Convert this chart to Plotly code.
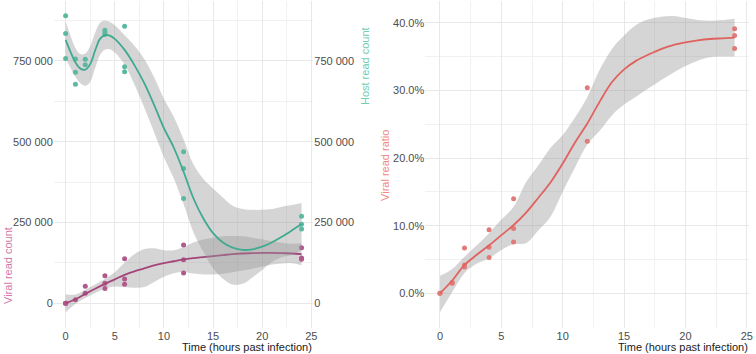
import plotly.graph_objects as go

# ---------------- data ----------------
host_t = [0, 0, 0, 1, 1, 1, 2, 2, 4, 4, 4, 6, 6, 6, 12, 12, 12, 24, 24, 24]
host_reads = [890000, 835000, 757000, 756000, 715000, 678000, 755000, 738000,
              845000, 838000, 832000, 857000, 732000, 716000,
              469000, 417000, 324000, 269000, 244500, 230000]

viral_t = [0, 0, 0, 1, 2, 2, 4, 4, 4, 6, 6, 6, 12, 12, 12, 24, 24, 24]
viral_reads = [0, 0, 0, 11000, 52600, 31000, 85000, 62000, 46000,
               138000, 75000, 59000, 180000, 135000, 94000, 172000, 140000, 136000]

ratio_t = [0, 0, 1, 1, 2, 2, 2, 4, 4, 4, 6, 6, 6, 12, 12, 24, 24, 24]
ratio_pct = [0, 0, 1.5, 1.6, 6.7, 4.2, 3.9, 9.4, 6.8, 5.3, 14.0, 9.6, 7.6,
             30.4, 22.5, 39.1, 38.1, 36.2]

# smoothed fits
host_fit_t = [0, 0.5, 1, 1.5, 2, 2.5, 3, 3.5, 4, 4.5, 5, 6, 7, 8, 9, 10, 11, 12,
              13, 14, 15, 16, 17, 18, 19, 20, 21, 22, 23, 24]
host_fit = [815, 778, 745, 726, 723, 740, 782, 818, 830, 828, 818, 784, 737, 681,
            614, 542, 482, 407, 325, 263, 217, 188, 172, 165, 167, 175, 189, 206, 225, 245]
host_hi = [872, 828, 790, 771, 773, 795, 837, 868, 875, 870, 860, 829, 797, 756,
           699, 632, 577, 507, 430, 385, 355, 327, 302, 292, 289, 289, 292, 299, 304, 310]
host_lo = [758, 728, 700, 681, 673, 685, 727, 768, 785, 786, 776, 739, 677, 606,
           529, 452, 387, 307, 220, 160, 108, 76, 58, 60, 80, 103, 128, 142, 150, 165]

viral_fit_t = list(range(0, 25))
viral_fit = [0, 12.4, 29, 45, 60, 74, 88, 99, 108, 117, 124, 130, 136, 140, 143,
             146, 149, 152, 154, 155, 156, 156, 155, 154, 152]
viral_hi = [28, 27, 42, 58, 75, 96, 126, 152, 168, 170, 164, 164, 174, 188, 197,
            203, 207, 208, 207, 203, 198, 192, 187, 184, 186]
viral_lo = [-28, -2, 16, 32, 45, 52, 50, 48, 50, 66, 82, 93, 97, 92, 89,
            89, 91, 96, 101, 107, 114, 120, 123, 124, 118]

ratio_fit_t = list(range(0, 25))
ratio_fit = [0, 1.9, 4.2, 5.7, 7.1, 8.6, 10.1, 11.9, 14.1, 16.4, 19.2, 22.3, 25.1,
             28.3, 31.2, 33.1, 34.4, 35.3, 36.1, 36.7, 37.1, 37.4, 37.6, 37.7, 37.8]
ratio_hi = [2.6, 3.6, 5.4, 7.1, 8.9, 10.9, 12.8, 16.4, 18.9, 21.5, 23.4, 26.0, 29.0,
            33.0, 36.1, 38.1, 39.7, 40.5, 40.9, 41.0, 40.7, 40.4, 40.3, 40.4, 40.6]
ratio_lo = [-2.8, 0.2, 3.0, 4.4, 5.2, 6.4, 7.3, 7.4, 9.3, 11.3, 15.0, 18.6, 22.0,
            24.0, 26.3, 27.9, 29.1, 30.3, 31.5, 32.6, 33.6, 34.4, 34.9, 35.0, 35.0]

x_ticks = [0, 5, 10, 15, 20, 25]
count_ticks = [0, 250000, 500000, 750000]
count_labels = ["0", "250 000", "500 000", "750 000"]
ratio_ticks = [0, 10, 20, 30, 40]
ratio_labels = ["0.0%", "10.0%", "20.0%", "30.0%", "40.0%"]

# ---------------- style ----------------
TEAL_PT, TEAL_LN, TEAL_TX = "#5cb9a1", "#3faa90", "#6fcdb1"
PURP_PT, PURP_LN, PURP_TX = "#b05a8b", "#a4457a", "#d27aa9"
RED_PT, RED_LN, RED_TX = "#df7b78", "#e0625f", "#ef8a85"
BAND = "rgba(150,150,150,0.40)"
FONT = "Liberation Sans, Arial, sans-serif"

fig = go.Figure()


def band(xs, lo, hi, scale, xa, ya):
    fig.add_trace(go.Scatter(x=xs, y=[v * scale for v in lo], mode="lines",
                             line=dict(width=0, shape="spline"), hoverinfo="skip",
                             showlegend=False, xaxis=xa, yaxis=ya))
    fig.add_trace(go.Scatter(x=xs, y=[v * scale for v in hi], mode="lines",
                             line=dict(width=0, shape="spline"), fill="tonexty",
                             fillcolor=BAND, hoverinfo="skip",
                             showlegend=False, xaxis=xa, yaxis=ya))


band(host_fit_t, host_lo, host_hi, 1000, "x", "y2")
band(viral_fit_t, viral_lo, viral_hi, 1000, "x", "y")
band(ratio_fit_t, ratio_lo, ratio_hi, 1, "x2", "y3")

fig.add_trace(go.Scatter(x=host_t, y=host_reads, mode="markers",
                         marker=dict(size=5, color=TEAL_PT), showlegend=False,
                         xaxis="x", yaxis="y2"))
fig.add_trace(go.Scatter(x=viral_t, y=viral_reads, mode="markers",
                         marker=dict(size=5, color=PURP_PT), showlegend=False,
                         xaxis="x", yaxis="y"))
fig.add_trace(go.Scatter(x=ratio_t, y=ratio_pct, mode="markers",
                         marker=dict(size=5, color=RED_PT), showlegend=False,
                         xaxis="x2", yaxis="y3"))

fig.add_trace(go.Scatter(x=host_fit_t, y=[v * 1000 for v in host_fit], mode="lines",
                         line=dict(color=TEAL_LN, width=1.8, shape="spline"),
                         showlegend=False, xaxis="x", yaxis="y2"))
fig.add_trace(go.Scatter(x=viral_fit_t, y=[v * 1000 for v in viral_fit], mode="lines",
                         line=dict(color=PURP_LN, width=1.8, shape="spline"),
                         showlegend=False, xaxis="x", yaxis="y"))
fig.add_trace(go.Scatter(x=ratio_fit_t, y=ratio_fit, mode="lines",
                         line=dict(color=RED_LN, width=1.8, shape="spline"),
                         showlegend=False, xaxis="x2", yaxis="y3"))

W, H = 756, 354
ydom = [1 - 327.5 / H, 1 - 1.1 / H]
GRID = "#e8e8e8"
MINOR = "#f1f1f1"
tickfont = dict(family=FONT, size=11, color="#4d4d4d")

xcommon = dict(range=[-1.2, 25.2], tickvals=x_ticks, showgrid=True, gridcolor=GRID,
               gridwidth=1, zeroline=False, showline=False, ticks="",
               tickfont=tickfont,
               minor=dict(tickvals=[2.5, 7.5, 12.5, 17.5, 22.5], showgrid=True,
                          gridcolor=MINOR, gridwidth=1))

fig.update_layout(
    width=W, height=H, margin=dict(l=0, r=0, t=0, b=0),
    paper_bgcolor="white", plot_bgcolor="white",
    font=dict(family=FONT, size=11, color="#4d4d4d"),
    showlegend=False,
    xaxis=dict(domain=[54.1 / W, 315.0 / W], anchor="y", **xcommon),
    xaxis2=dict(domain=[427.5 / W, 753.3 / W], anchor="y3", **xcommon),
    yaxis=dict(domain=ydom, range=[-75000, 935000], tickvals=count_ticks,
               ticktext=count_labels, showgrid=True, gridcolor=GRID, zeroline=False,
               showline=False, ticks="", tickfont=tickfont, anchor="x",
               minor=dict(tickvals=[125000, 375000, 625000, 875000], showgrid=True,
                          gridcolor=MINOR, gridwidth=1)),
    yaxis2=dict(domain=ydom, range=[-75000, 935000], tickvals=count_ticks,
                ticktext=count_labels, showgrid=False, zeroline=False, showline=False,
                ticks="", tickfont=tickfont, overlaying="y", side="right", anchor="x"),
    yaxis3=dict(domain=ydom, range=[-5.05, 43.2], tickvals=ratio_ticks,
                ticktext=ratio_labels, showgrid=True, gridcolor=GRID, zeroline=False,
                showline=False, ticks="", tickfont=tickfont, anchor="x2",
                minor=dict(tickvals=[-5, 5, 15, 25, 35], showgrid=True,
                           gridcolor=MINOR, gridwidth=1)),
)

ann = [
    dict(text="Viral read count", x=8 / W, y=1 - 265 / H, textangle=-90,
         font=dict(family=FONT, size=11, color=PURP_TX)),
    dict(text="Host read count", x=367 / W, y=1 - 66 / H, textangle=-90,
         font=dict(family=FONT, size=11, color=TEAL_TX)),
    dict(text="Viral read ratio", x=387 / W, y=1 - 165 / H, textangle=-90,
         font=dict(family=FONT, size=11, color=RED_TX)),
]
for a in ann:
    fig.add_annotation(xref="paper", yref="paper", showarrow=False,
                       xanchor="center", yanchor="middle", **a)
for xr in (315.5, 753.5):
    fig.add_annotation(text="Time (hours past infection)", xref="paper", yref="paper",
                       x=xr / W, y=1 - 347 / H, xanchor="right", yanchor="middle",
                       showarrow=False, font=dict(family=FONT, size=11, color="#1a1a1a"))

fig.write_html("out.html", config={"displayModeBar": False},
               post_script="document.body.style.margin='0';document.body.style.padding='0';")
